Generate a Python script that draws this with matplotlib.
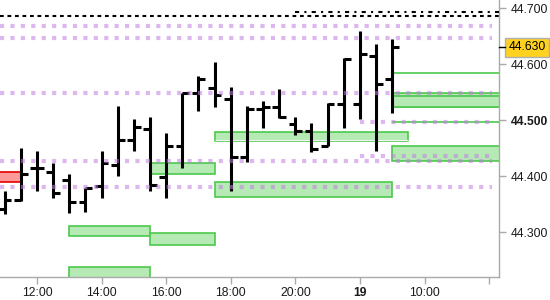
import matplotlib
matplotlib.use('Agg')
import matplotlib.pyplot as plt
from matplotlib.patches import Rectangle

plt.rcParams['font.family'] = ['Liberation Sans', 'DejaVu Sans']

# half-hour OHLC bars, 11:00 .. next day 09:00
bar_times = ['11:00', '11:30', '12:00', '12:30', '13:00', '13:30', '14:00', '14:30',
             '15:00', '15:30', '16:00', '16:30', '17:00', '17:30', '18:00', '18:30',
             '19:00', '19:30', '20:00', '20:30', '21:00', '21:30', '08:00', '08:30', '09:00']
opens = [44.341, 44.358, 44.415, 44.408, 44.393, 44.355, 44.383, 44.420, 44.465, 44.484,
         44.398, 44.455, 44.549, 44.558, 44.538, 44.435, 44.520, 44.524, 44.493, 44.480,
         44.455, 44.529, 44.529, 44.614, 44.573]
highs = [44.373, 44.450, 44.445, 44.424, 44.405, 44.380, 44.445, 44.526, 44.502, 44.506,
         44.477, 44.549, 44.579, 44.604, 44.559, 44.526, 44.535, 44.555, 44.506, 44.495,
         44.530, 44.611, 44.660, 44.636, 44.645]
lows = [44.332, 44.356, 44.373, 44.362, 44.334, 44.337, 44.362, 44.401, 44.446, 44.373,
        44.362, 44.414, 44.517, 44.523, 44.373, 44.426, 44.487, 44.504, 44.473, 44.443,
        44.454, 44.487, 44.503, 44.446, 44.513]
closes = [44.358, 44.404, 44.415, 44.371, 44.355, 44.380, 44.424, 44.465, 44.488, 44.385,
          44.455, 44.549, 44.573, 44.545, 44.435, 44.520, 44.524, 44.505, 44.480, 44.448,
          44.529, 44.609, 44.618, 44.565, 44.630]
last_price = 44.630

# zones: (start bar, end bar, low, high); None = to the edge
green_zones = [(4, 9, 44.293, 44.311), (4, 9, 44.200, 44.2375), (9, 13, 44.278, 44.298),
               (9, 13, 44.4036, 44.4232), (13, 24, 44.3625, 44.3893), (13, 25, 44.4631, 44.4786),
               (24, None, 44.5232, 44.5482), (24, None, 44.5232, 44.5434), (24, None, 44.4273, 44.4541)]
red_zones = [(None, 1, 44.3893, 44.4071)]
green_lines = [44.5845, 44.4964]

# support/resistance levels
purple_levels = [44.6689, 44.6475, 44.5493, 44.4279, 44.3804]
purple_short = [44.4961, 44.4357]
black_level = 44.6868
black_level2 = 44.6939

tick_pos = [2, 6, 10, 14, 18, 22, 26, 30]
tick_labels = ['12:00', '14:00', '16:00', '18:00', '20:00', '19', '10:00', '']
y_ticks = [44.3, 44.4, 44.5, 44.6, 44.7]

x0, x1 = -0.29, 30.63
y0, y1 = 44.2202, 44.7148

fig = plt.figure(figsize=(5.5, 3), dpi=100)
ax = fig.add_axes([0, 23 / 300, 499.3 / 550, 277 / 300])
ax.set_xlim(x0, x1)
ax.set_ylim(y0, y1)

# zones
for z in green_zones:
    s = x0 - 1 if z[0] is None else z[0]
    e = x1 + 1 if z[1] is None else z[1]
    ax.add_patch(Rectangle((s, z[2]), e - s, z[3] - z[2], facecolor='#b5eab5',
                           edgecolor='#4cc94c', lw=1.2, zorder=2))
for z in red_zones:
    s = x0 - 1 if z[0] is None else z[0]
    e = x1 + 1 if z[1] is None else z[1]
    ax.add_patch(Rectangle((s, z[2]), e - s, z[3] - z[2], facecolor='#ff9a9a',
                           edgecolor='#e60000', lw=1.2, zorder=2))
ax.hlines(44.4648, 13, 25, color='#f4f4f4', lw=0.8, zorder=2.5)
ax.hlines(green_lines, 24, x1 + 1, color='#4cc94c', lw=1.2, zorder=2)

# black dotted levels
ax.hlines(black_level, x0, x1, color='black', lw=1.5, linestyle=(0, (1.8, 1.8)), zorder=3)
ax.hlines(black_level2, 18, x1, color='black', lw=1.5, linestyle=(0, (2, 2.5, 1, 2.5)), zorder=3)

# ohlc bars
for i in range(len(opens)):
    ax.plot([i, i], [lows[i], highs[i]], color='black', lw=2.2, solid_capstyle='butt', zorder=4)
    ax.plot([i - 0.42, i], [opens[i], opens[i]], color='black', lw=2.2, solid_capstyle='butt', zorder=4)
    ax.plot([i, i + 0.42], [closes[i], closes[i]], color='black', lw=2.2, solid_capstyle='butt', zorder=4)

# purple dotted levels on top
for lv in purple_levels:
    ax.hlines(lv, x0, 30.2, color='#c27fe3', alpha=0.55, lw=3, linestyle=(0, (1, 1.5)), zorder=5)
for lv in purple_short:
    ax.hlines(lv, 22, 30.2, color='#c27fe3', alpha=0.55, lw=3, linestyle=(0, (1, 1.5)), zorder=5)

# axes
for sp in ['top', 'left']:
    ax.spines[sp].set_visible(False)
for sp in ['right', 'bottom']:
    ax.spines[sp].set_color('#aaaaaa')
    ax.spines[sp].set_linewidth(1)
ax.yaxis.tick_right()
ax.set_yticks(y_ticks)
ax.set_yticklabels(['%.3f' % v for v in y_ticks])
ax.set_xticks(tick_pos)
ax.set_xticklabels(tick_labels)
ax.tick_params(axis='y', length=5, width=1, color='#aaaaaa', pad=3, labelsize=8.7, labelcolor='#1a1a1a')
ax.tick_params(axis='x', length=5, width=1, color='#aaaaaa', pad=2.5, labelsize=8.7, labelcolor='#1a1a1a')
for lab in ax.get_yticklabels():
    if lab.get_text() == '44.500':
        lab.set_fontweight('bold')
for lab in ax.get_xticklabels():
    if lab.get_text() == '19':
        lab.set_fontweight('bold')

# last price marker
ax.plot([1, 1.012], [last_price, last_price], color='black', lw=1,
        transform=ax.get_yaxis_transform(), clip_on=False, zorder=6)
ax.annotate('%.3f' % last_price, xy=(1, last_price), xycoords=('axes fraction', 'data'),
            xytext=(6.8, 0), textcoords='offset points', va='center', ha='left',
            fontsize=8.7, color='black',
            bbox=dict(boxstyle='square,pad=0.28', fc='#ffd21f', ec='#b0b0b0', lw=1))

fig.savefig('out.png', dpi=100)
